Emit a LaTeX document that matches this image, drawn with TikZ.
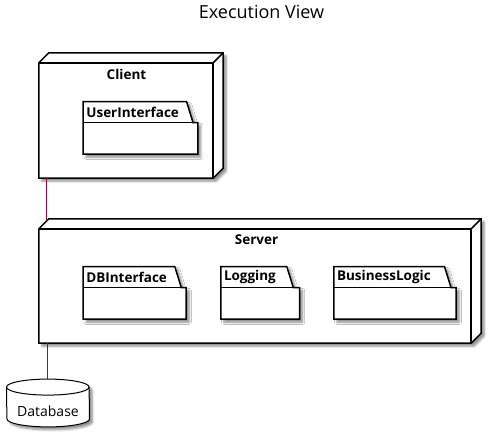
\documentclass[tikz,border=0pt]{standalone}
\usepackage{fontspec}
\setmainfont{Open Sans}
\usetikzlibrary{shadows.blur,calc}
\definecolor{conn}{HTML}{A80036}
\tikzset{
  x=1pt,y=-1pt,
  outl/.style={draw=black,line width=1.5pt,line join=miter},
  shad/.style={blur shadow={shadow xshift=3pt,shadow yshift=-3pt,shadow blur steps=6,shadow opacity=45}},
  frontbox/.style={rectangle,inner sep=0pt,draw=none},
  pkgbody/.style={rectangle,inner sep=0pt,draw=none,minimum height=31.3pt},
  lbl/.style={font=\bfseries\fontsize{13.5}{15}\selectfont,inner sep=0pt},
  conline/.style={draw=conn,line width=1pt},
}
\newcommand{\nodebox}[1]{%
  \fill[white,shad] (#1.south west) -- (#1.north west) -- ($(#1.north west)+(10,-10)$) -- ($(#1.north east)+(10,-10)$) -- ($(#1.south east)+(10,-10)$) -- (#1.south east) -- cycle;
  \draw[outl] (#1.south west) -- (#1.north west) -- ($(#1.north west)+(10,-10)$) -- ($(#1.north east)+(10,-10)$) -- ($(#1.south east)+(10,-10)$) -- (#1.south east) -- cycle;
  \draw[outl] (#1.north west) -- (#1.north east) -- (#1.south east);
  \draw[outl] (#1.north east) -- ($(#1.north east)+(10,-10)$);
}
% #1 body node, #2 tab right x at top
\newcommand{\pkg}[2]{%
  \path[fill=white,shad] ($(#1.north west)+(0,-21)$) -| ($(#1.north west)+(#2,-21)$) -- ($(#1.north west)+(#2+6.5,0)$) -| (#1.south east) -| cycle;
  \draw[outl] ($(#1.north west)+(0,-21)$) -- ($(#1.north west)+(#2,-21)$) -- ($(#1.north west)+(#2+6.5,0)$) -- (#1.north east) -- (#1.south east) -- (#1.south west) -- cycle;
  \draw[outl] (#1.north west) -- ($(#1.north west)+(#2+6.5,0)$);
}
\begin{document}
\begin{tikzpicture}
\useasboundingbox (0,0) rectangle (501,435);
\node[font=\fontsize{18}{20}\selectfont,inner sep=0pt] (title) at (261.5,11.5) {Execution View};

% Client
\node[frontbox,minimum width=174pt,minimum height=115pt] (client) at (126,120.5) {};
\nodebox{client}
\node[lbl] (clientlbl) at (126.5,74.5) {Client};
\node[pkgbody,minimum width=114.3pt] (ui) at (140.5,138.4) {};
\pkg{ui}{103.4}
\node[lbl,anchor=west] (uilbl) at ($(ui.north west)+(3,-10.5)$) {UserInterface};

% Server
\node[frontbox,minimum width=432pt,minimum height=114pt] (server) at (255,286) {};
\nodebox{server}
\node[lbl] (serverlbl) at (256.5,240) {Server};
\node[pkgbody,minimum width=102.7pt] (dbi) at (134.65,303.4) {};
\pkg{dbi}{91.7}
\node[lbl,anchor=west] (dbilbl) at ($(dbi.north west)+(3,-10.5)$) {DBInterface};
\node[pkgbody,minimum width=78.3pt] (log) at (260.15,303.4) {};
\pkg{log}{66}
\node[lbl,anchor=west] (loglbl) at ($(log.north west)+(3,-10.5)$) {Logging};
\node[pkgbody,minimum width=122pt] (bl) at (395,303.4) {};
\pkg{bl}{110.7}
\node[lbl,anchor=west] (bllbl) at ($(bl.north west)+(3,-10.5)$) {BusinessLogic};

% Database
\node[rectangle,inner sep=0pt,minimum width=82.6pt,minimum height=47.4pt] (db) at (48,403) {};
\path[fill=white,shad] ($(db.north west)+(0,8)$) arc[start angle=180,end angle=0,x radius=41.3pt,y radius=8pt] -- ($(db.south east)+(0,-8)$) arc[start angle=0,end angle=-180,x radius=41.3pt,y radius=8pt] -- cycle;
\draw[line width=1pt] ($(db.north west)+(0,8)$) arc[start angle=180,end angle=0,x radius=41.3pt,y radius=8pt] -- ($(db.south east)+(0,-8)$) arc[start angle=0,end angle=-180,x radius=41.3pt,y radius=8pt] -- cycle;
\draw[line width=1pt] ($(db.north west)+(0,8)$) arc[start angle=180,end angle=360,x radius=41.3pt,y radius=8pt];
\node[font=\fontsize{14}{16}\selectfont,inner sep=0pt] (dblbl) at (48,411) {Database};

% connectors
\coordinate (c1) at ($(client.south west)+(8,0)$);
\coordinate (c2) at ($(server.north west)+(8,-8)$);
\draw[conline] (c1) -- (c2);
\coordinate (c3) at ($(server.south west)+(8.5,0)$);
\draw[conline] (c3) -- (db.north -| c3);
\end{tikzpicture}
\end{document}
